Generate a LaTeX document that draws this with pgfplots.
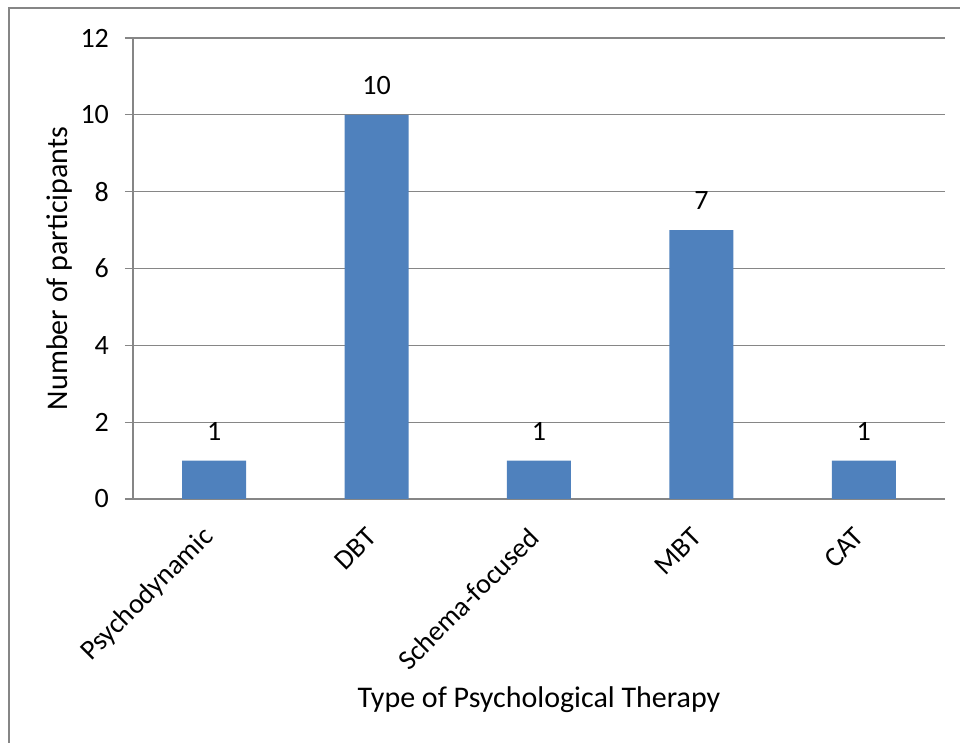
\documentclass[border=0pt]{standalone}
\usepackage{fontspec}
\setmainfont{Carlito}
\usepackage{pgfplots}
\pgfplotsset{compat=1.18}
\definecolor{barblue}{RGB}{79,129,189}
\definecolor{linegray}{RGB}{134,134,134}

\begin{document}
\begin{tikzpicture}[x=0.5pt,y=0.5pt,font=\fontsize{14pt}{17pt}\selectfont]
\useasboundingbox (0,0) rectangle (960,743);
\draw[linegray, line width=1pt] (9,-20) -- (9,735) -- (990,735);
\begin{axis}[
    at={(66.5pt,122pt)}, anchor=south west,
    scale only axis,
    width=406pt, height=230.5pt,
    ybar, bar width=32pt,
    xmin=-0.5, xmax=4.5,
    ymin=0, ymax=12,
    ytick={0,2,...,12},
    xtick={0,1,2,3,4},
    xticklabels={Psychodynamic,DBT,Schema-focused,MBT,CAT},
    extra x ticks={-0.5,0.5,1.5,2.5,3.5,4.5},
    extra x tick labels={},
    extra x tick style={major tick length=8pt, tick style={linegray, line width=0.6pt}},
    major x tick style={draw=none},
    axis x line*=bottom, axis y line*=left,
    axis line style={linegray, line width=0.6pt, -},
    y tick style={linegray, line width=0.6pt},
    tick align=outside, major tick length=4pt,
    ymajorgrids=true,
    grid style={linegray, line width=0.6pt},
    /pgf/number format/assume math mode=true,
    yticklabel style={xshift=-4.5pt},
    xticklabel style={yshift=-10.5pt, rotate=45, anchor=east},
    ylabel={Number of participants},
    xlabel={Type of Psychological Therapy},
    every axis y label/.style={at={(rel axis cs:-0.09,0.5)}, rotate=90, anchor=center, font=\fontsize{15pt}{18pt}\selectfont},
    every axis x label/.style={at={(rel axis cs:0.5,-0.436)}, anchor=center, font=\fontsize{15pt}{18pt}\selectfont},
    nodes near coords,
    nodes near coords style={anchor=south, inner sep=0pt, yshift=10pt, black},
]
\addplot[fill=barblue, draw=none] coordinates {(0,1) (1,10) (2,1) (3,7) (4,1)};
\end{axis}
\end{tikzpicture}
\end{document}
